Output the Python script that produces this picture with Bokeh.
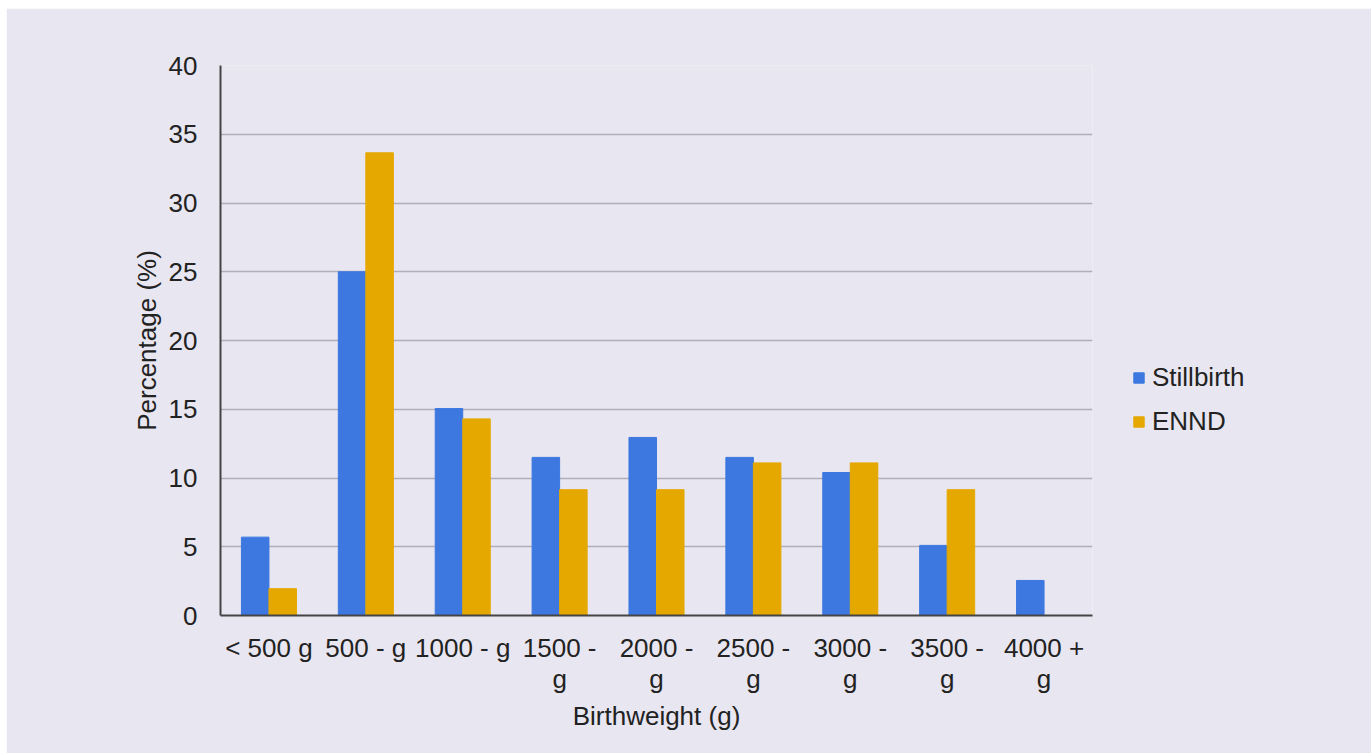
from bokeh.plotting import figure
from bokeh.models import ColumnDataSource, Legend, LegendItem, FactorRange
from bokeh.transform import dodge
from bokeh.embed import file_html
from bokeh.resources import INLINE

# Birthweight bands and share of deaths in each (%)
categories = ["< 500 g", "500 - g", "1000 - g", "1500 -\ng", "2000 -\ng",
              "2500 -\ng", "3000 -\ng", "3500 -\ng", "4000 +\ng"]
stillbirth = [5.7, 25.0, 15.05, 11.5, 12.95, 11.5, 10.4, 5.1, 2.55]
ennd = [1.95, 33.65, 14.3, 9.15, 9.15, 11.1, 11.1, 9.15, 0.0]
y_ticks = [0, 5, 10, 15, 20, 25, 30, 35, 40]

BG = "#E8E6F0"
BLUE = "#3C78E0"
GOLD = "#E5A800"
FONT = "Liberation Sans"
FS = "26px"

src = ColumnDataSource(dict(cat=categories, sb=stillbirth, en=ennd))

p = figure(
    x_range=FactorRange(*categories), y_range=(0, 40),
    frame_width=872, frame_height=550,
    min_border_left=214, min_border_right=276,
    min_border_top=57, min_border_bottom=138,
    output_backend="svg", toolbar_location=None,
    background_fill_color=BG, border_fill_color=BG,
    outline_line_color=None,
)
p.margin = (8, 0, 0, 6)

bw = 0.284
r1 = p.vbar(x=dodge("cat", -bw / 2, range=p.x_range), top="sb", width=bw,
            source=src, fill_color=BLUE, line_color=BLUE)
r2 = p.vbar(x=dodge("cat", bw / 2, range=p.x_range), top="en", width=bw,
            source=src, fill_color=GOLD, line_color=GOLD)

# axes
p.yaxis.ticker = y_ticks
p.yaxis.axis_label = "Percentage (%)"
p.xaxis.axis_label = "Birthweight (g)"
for ax in (p.xaxis[0], p.yaxis[0]):
    ax.axis_label_text_font = FONT
    ax.axis_label_text_font_size = FS
    ax.axis_label_text_font_style = "normal"
    ax.axis_label_text_color = "#222222"
    ax.major_label_text_font = FONT
    ax.major_label_text_font_size = FS
    ax.major_label_text_color = "#222222"
    ax.major_tick_line_color = None
    ax.minor_tick_line_color = None
    ax.axis_line_color = "#444444"
    ax.axis_line_width = 2
p.xaxis.major_label_text_line_height = 1.05
p.yaxis.major_label_standoff = 17
p.yaxis.axis_label_standoff = 4
p.xaxis.major_label_standoff = 11
p.xaxis.axis_label_standoff = 4

p.xgrid.grid_line_color = None
p.ygrid.grid_line_color = "#B0AEB8"
p.ygrid.grid_line_width = 1.5

legend = Legend(
    items=[LegendItem(label="Stillbirth", renderers=[r1]),
           LegendItem(label="ENND", renderers=[r2])],
    location=(40, 178),
    orientation="vertical",
    glyph_width=13, glyph_height=13,
    label_text_font=FONT, label_text_font_size=FS,
    label_text_color="#222222",
    label_standoff=7, spacing=13, padding=0, margin=0,
    background_fill_alpha=0, border_line_alpha=0,
)
p.add_layout(legend, "right")

open("out.html", "w").write(file_html(p, INLINE))
